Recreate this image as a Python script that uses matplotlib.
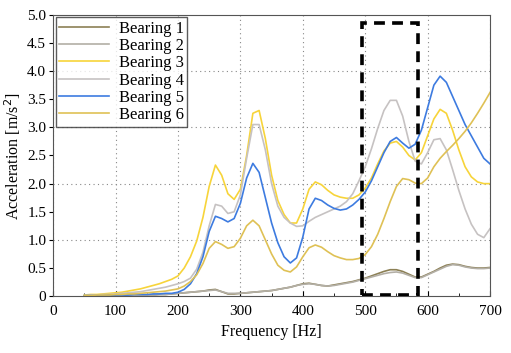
import numpy as np
import matplotlib
matplotlib.use('Agg')
import matplotlib.pyplot as plt
from matplotlib.patches import Rectangle
from matplotlib.ticker import MultipleLocator, FuncFormatter

plt.rcParams['font.family'] = ['Liberation Serif', 'DejaVu Serif']

# frequency grid (Hz), 50..700 every 10 Hz
freq = np.arange(50, 701, 10)

bearing1 = [0.00, 0.00, 0.00, 0.00, 0.00, 0.01, 0.01, 0.01, 0.01, 0.02, 0.02, 0.02, 0.03, 0.03, 0.04,
            0.05, 0.06, 0.07, 0.08, 0.09, 0.11, 0.12, 0.08, 0.04, 0.04, 0.05, 0.06, 0.07, 0.08, 0.09,
            0.10, 0.12, 0.14, 0.16, 0.19, 0.22, 0.23, 0.21, 0.19, 0.18, 0.20, 0.22, 0.24, 0.26, 0.29,
            0.32, 0.36, 0.40, 0.44, 0.47, 0.47, 0.44, 0.39, 0.34, 0.34, 0.39, 0.44, 0.50, 0.55, 0.57,
            0.56, 0.53, 0.51, 0.50, 0.50, 0.51]
bearing2 = [0.00, 0.00, 0.00, 0.00, 0.00, 0.01, 0.01, 0.01, 0.01, 0.02, 0.02, 0.02, 0.03, 0.03, 0.04,
            0.05, 0.06, 0.07, 0.08, 0.09, 0.10, 0.11, 0.08, 0.05, 0.05, 0.05, 0.06, 0.07, 0.08, 0.09,
            0.10, 0.12, 0.14, 0.16, 0.19, 0.21, 0.22, 0.21, 0.19, 0.18, 0.19, 0.21, 0.23, 0.25, 0.28,
            0.31, 0.34, 0.37, 0.40, 0.42, 0.43, 0.41, 0.37, 0.33, 0.33, 0.38, 0.43, 0.48, 0.53, 0.56,
            0.55, 0.52, 0.50, 0.49, 0.49, 0.50]
bearing3 = [0.02, 0.03, 0.03, 0.04, 0.05, 0.06, 0.07, 0.09, 0.11, 0.13, 0.16, 0.19, 0.22, 0.26, 0.30,
            0.36, 0.50, 0.70, 0.98, 1.40, 1.95, 2.33, 2.15, 1.82, 1.72, 1.90, 2.50, 3.25, 3.30, 2.80,
            2.15, 1.70, 1.45, 1.30, 1.30, 1.55, 1.90, 2.03, 1.98, 1.88, 1.80, 1.76, 1.74, 1.74, 1.80,
            1.92, 2.10, 2.35, 2.58, 2.72, 2.75, 2.65, 2.50, 2.42, 2.55, 2.85, 3.15, 3.32, 3.25, 2.95,
            2.60, 2.30, 2.12, 2.03, 2.00, 2.00]
bearing4 = [0.01, 0.02, 0.02, 0.03, 0.03, 0.04, 0.05, 0.06, 0.07, 0.08, 0.10, 0.12, 0.14, 0.16, 0.19,
            0.22, 0.26, 0.32, 0.48, 0.78, 1.25, 1.63, 1.60, 1.47, 1.50, 1.80, 2.45, 3.05, 3.05, 2.60,
            2.00, 1.60, 1.40, 1.30, 1.24, 1.25, 1.33, 1.40, 1.45, 1.50, 1.55, 1.60, 1.68, 1.82, 2.05,
            2.30, 2.62, 2.98, 3.30, 3.48, 3.48, 3.20, 2.75, 2.40, 2.35, 2.55, 2.78, 2.80, 2.60, 2.25,
            1.88, 1.55, 1.28, 1.10, 1.04, 1.20]
bearing5 = [0.01, 0.01, 0.01, 0.01, 0.02, 0.02, 0.02, 0.02, 0.03, 0.03, 0.03, 0.04, 0.04, 0.05, 0.05,
            0.07, 0.12, 0.22, 0.40, 0.70, 1.15, 1.42, 1.38, 1.32, 1.38, 1.65, 2.10, 2.36, 2.20, 1.75,
            1.30, 0.95, 0.70, 0.59, 0.68, 1.05, 1.55, 1.74, 1.70, 1.62, 1.56, 1.53, 1.55, 1.62, 1.72,
            1.85, 2.05, 2.30, 2.55, 2.75, 2.82, 2.72, 2.63, 2.70, 2.95, 3.35, 3.75, 3.91, 3.80, 3.55,
            3.30, 3.05, 2.85, 2.65, 2.45, 2.35]
bearing6 = [0.01, 0.01, 0.02, 0.02, 0.02, 0.03, 0.03, 0.04, 0.04, 0.05, 0.06, 0.07, 0.08, 0.09, 0.11,
            0.13, 0.18, 0.26, 0.38, 0.58, 0.85, 0.97, 0.92, 0.85, 0.88, 1.03, 1.25, 1.35, 1.25, 1.00,
            0.75, 0.55, 0.46, 0.43, 0.52, 0.70, 0.86, 0.91, 0.87, 0.79, 0.72, 0.68, 0.65, 0.65, 0.67,
            0.74, 0.88, 1.10, 1.38, 1.68, 1.95, 2.09, 2.07, 2.01, 2.00, 2.10, 2.30, 2.45, 2.57, 2.68,
            2.80, 2.93, 3.08, 3.25, 3.43, 3.62]

labels = ['Bearing 1', 'Bearing 2', 'Bearing 3', 'Bearing 4', 'Bearing 5', 'Bearing 6']
colors = ['#8c8055', '#b3afa6', '#f7d43a', '#c6c2c2', '#3d7be0', '#dfc155']
series = [bearing1, bearing2, bearing3, bearing4, bearing5, bearing6]

# highlighted band
box_f0, box_f1 = 495, 585
box_a0, box_a1 = 0.02, 4.86

fig = plt.figure(figsize=(5.11, 3.53), dpi=100)
ax = fig.add_axes([0.104, 0.161, 0.855, 0.797])

for y, c, lab in zip(series, colors, labels):
    ax.plot(freq, y, color=c, lw=1.2, label=lab)

rect = Rectangle((box_f0, box_a0), box_f1 - box_f0, box_a1 - box_a0, fill=False,
                 edgecolor='black', lw=2.6, linestyle=(0, (3, 2)), zorder=5)
ax.add_patch(rect)

ax.set_xlim(0, 700)
ax.set_ylim(0, 5.0)
ax.xaxis.set_major_locator(MultipleLocator(100))
ax.xaxis.set_minor_locator(MultipleLocator(50))
ax.yaxis.set_major_locator(MultipleLocator(0.5))
ax.yaxis.set_major_formatter(FuncFormatter(lambda v, p: '0' if v == 0 else f'{v:.1f}'))

ax.tick_params(axis='x', which='both', direction='in', labelsize=11, pad=6)
ax.tick_params(axis='x', which='minor', length=2)
ax.tick_params(axis='y', direction='out', labelsize=11, length=3, pad=2)

ax.xaxis.grid(True, linestyle=(0, (1, 3)), color='#888888', lw=0.8)
for g in [1, 2, 3, 4]:
    ax.axhline(g, linestyle=(0, (1, 3)), color='#888888', lw=0.8, zorder=0)

for s in ax.spines.values():
    s.set_color('#555555')

ax.set_xlabel('Frequency [Hz]', fontsize=11.5, labelpad=5)
ax.set_ylabel('Acceleration [m/s$^2$]', fontsize=11.5, labelpad=3)

leg = ax.legend(loc='upper left', fontsize=12, frameon=True, fancybox=False, handlelength=3.0,
                labelspacing=0.08, borderpad=0.2, borderaxespad=0.15, handletextpad=0.6)
leg.get_frame().set_edgecolor('#333333')
leg.get_frame().set_linewidth(1.0)

fig.savefig('out.png', dpi=100)
